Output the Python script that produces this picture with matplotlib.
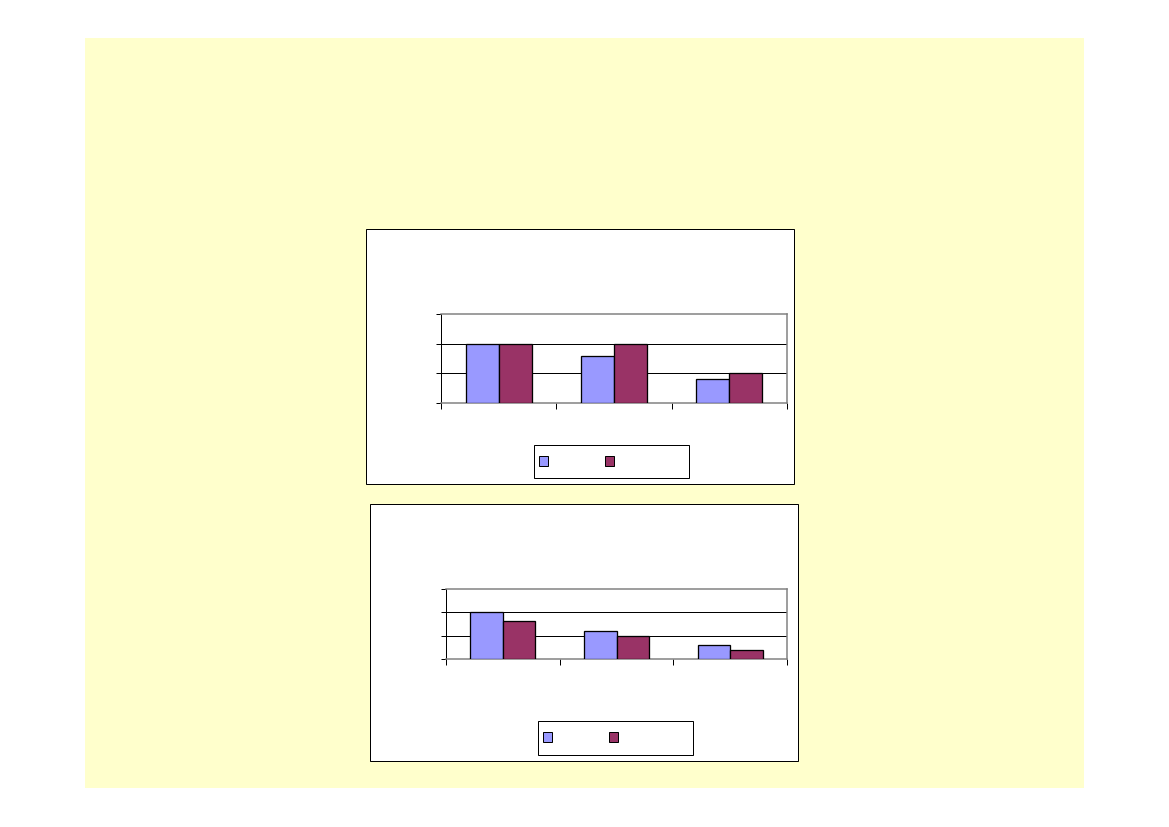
import matplotlib
matplotlib.use("Agg")
import matplotlib.pyplot as plt
from matplotlib.patches import Rectangle

W, H = 1169, 827

# data
categories = ["A", "B", "C"]
top_series1 = [2.0, 1.6, 0.8]
top_series2 = [2.0, 2.0, 1.0]
bottom_series1 = [2.0, 1.2, 0.6]
bottom_series2 = [1.65, 1.0, 0.4]
y_ticks = [0, 1, 2, 3]

BLUE = "#9999FF"
PLUM = "#993366"
BG = "#FFFFCC"
GRAY = "#808080"
PX = 0.72  # 1 px in points at 100 dpi

fig = plt.figure(figsize=(W / 100, H / 100), dpi=100)
fig.patch.set_facecolor("white")


def fx(x):
    return x / W


def fy(y):
    return 1 - y / H


def frect(x0, y0, x1, y1, **kw):
    r = Rectangle((fx(x0), fy(y1)), fx(x1) - fx(x0), fy(y0) - fy(y1),
                  transform=fig.transFigure, **kw)
    fig.patches.append(r)
    return r


# slide background
frect(85, 38, 1084, 788, facecolor=BG, edgecolor="none", zorder=0)


def chart(frame, plot, legend, s1, s2):
    fx0, fy0, fx1, fy1 = frame
    frect(fx0, fy0, fx1, fy1, facecolor="white", edgecolor="black",
          linewidth=1.0 * PX, zorder=1)
    px0, py0, px1, py1 = plot
    ax = fig.add_axes([fx(px0), fy(py1), fx(px1) - fx(px0), fy(py0) - fy(py1)])
    ax.set_zorder(2)
    ax.set_facecolor("white")
    n = len(categories)
    bw = 1 / 3.5
    xs = [i + 0.5 for i in range(n)]
    ax.bar([x - bw / 2 for x in xs], s1, width=bw, color=BLUE,
           edgecolor="black", linewidth=1.3 * PX, zorder=3)
    ax.bar([x + bw / 2 for x in xs], s2, width=bw, color=PLUM,
           edgecolor="black", linewidth=1.3 * PX, zorder=3)
    ax.set_xlim(0, n)
    ax.set_ylim(y_ticks[0], y_ticks[-1])
    ax.set_yticks(y_ticks)
    ax.set_xticks(range(n + 1))
    ax.set_xticklabels([])
    ax.set_yticklabels([])
    ax.tick_params(axis="y", direction="out", length=5 * PX, width=1 * PX, color="black")
    ax.tick_params(axis="x", direction="out", length=6 * PX, width=1 * PX, color="black")
    for t in y_ticks[1:-1]:
        ax.axhline(t, color="black", linewidth=1 * PX, zorder=1)
    ax.spines["left"].set_color("black")
    ax.spines["left"].set_linewidth(1 * PX)
    for s in ("top", "right", "bottom"):
        ax.spines[s].set_color(GRAY)
        ax.spines[s].set_linewidth(1.5 * PX)
    # legend
    lx0, ly0, lx1, ly1 = legend
    frect(lx0, ly0, lx1, ly1, facecolor="white", edgecolor="black",
          linewidth=1.0 * PX, zorder=4)
    my0 = ly0 + 11
    frect(lx0 + 5, my0, lx0 + 14, my0 + 10, facecolor=BLUE, edgecolor="black",
          linewidth=1.0 * PX, zorder=5)
    frect(lx0 + 71, my0, lx0 + 80, my0 + 10, facecolor=PLUM, edgecolor="black",
          linewidth=1.0 * PX, zorder=5)
    return ax


chart((366, 229, 794, 484), (441, 314, 787, 403), (534, 445, 689, 478),
      top_series1, top_series2)
chart((370, 504, 798, 761), (446, 589, 787, 659), (538, 721, 693, 755),
      bottom_series1, bottom_series2)

fig.savefig("out.png", dpi=100)
